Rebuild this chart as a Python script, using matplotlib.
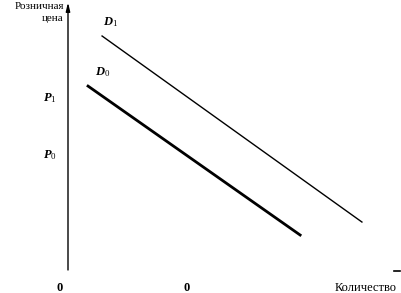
import matplotlib
matplotlib.use('Agg')
import matplotlib.pyplot as plt

# demand curves (quantity, price) in chart units
d1_q = [1.02, 8.80]
d1_p = [8.83, 1.81]
d0_q = [0.60, 6.95]
d0_p = [6.94, 1.32]

price_ticks = [6.49, 4.34]
price_labels = ['$P_1$', '$P_0$']

plt.rcParams['font.family'] = ['Liberation Serif', 'DejaVu Serif']
plt.rcParams['mathtext.fontset'] = 'custom'
plt.rcParams['mathtext.it'] = 'Liberation Serif:italic:bold'
plt.rcParams['mathtext.rm'] = 'Liberation Serif'

fig = plt.figure(figsize=(4.02, 2.93), dpi=100)
ax = fig.add_axes([68/402, 23/293, 334/402, 265/293])
ax.set_xlim(0, 10)
ax.set_ylim(0, 10)
for s in ['top', 'right', 'bottom', 'left']:
    ax.spines[s].set_visible(False)
ax.set_xticks([])
ax.set_yticks([])

# y axis with arrow
ax.annotate('', xy=(0, 10.1), xytext=(0, 0), xycoords='data',
            arrowprops=dict(arrowstyle='-|>,head_length=0.5,head_width=0.12',
                            color='black', lw=1.0, shrinkA=0, shrinkB=0),
            annotation_clip=False)
# stub of x axis arrow at far right
ax.plot([9.75, 9.95], [-0.05, -0.05], color='black', lw=1.2, clip_on=False)

ax.plot(d1_q, d1_p, color='black', lw=1.0)
ax.plot(d0_q, d0_p, color='black', lw=2.0)

ax.text(1.05, 9.1, '$D_1$', fontsize=9, ha='left', va='bottom')
ax.text(0.80, 7.2, '$D_0$', fontsize=9, ha='left', va='bottom')

for v, lab in zip(price_ticks, price_labels):
    ax.text(-0.35, v, lab, fontsize=9, ha='right', va='center')

ax.text(-0.1, 9.93, 'Розничная', fontsize=8, ha='right', va='center')
ax.text(-0.15, 9.49, 'цена', fontsize=8, ha='right', va='center')

ax.text(-0.24, -0.68, '0', fontsize=9, ha='center', va='center', fontweight='bold')
ax.text(3.56, -0.68, '0', fontsize=9, ha='center', va='center', fontweight='bold')
ax.text(8.9, -0.68, 'Количество', fontsize=9, ha='center', va='center')

fig.savefig('out.png', dpi=100)
